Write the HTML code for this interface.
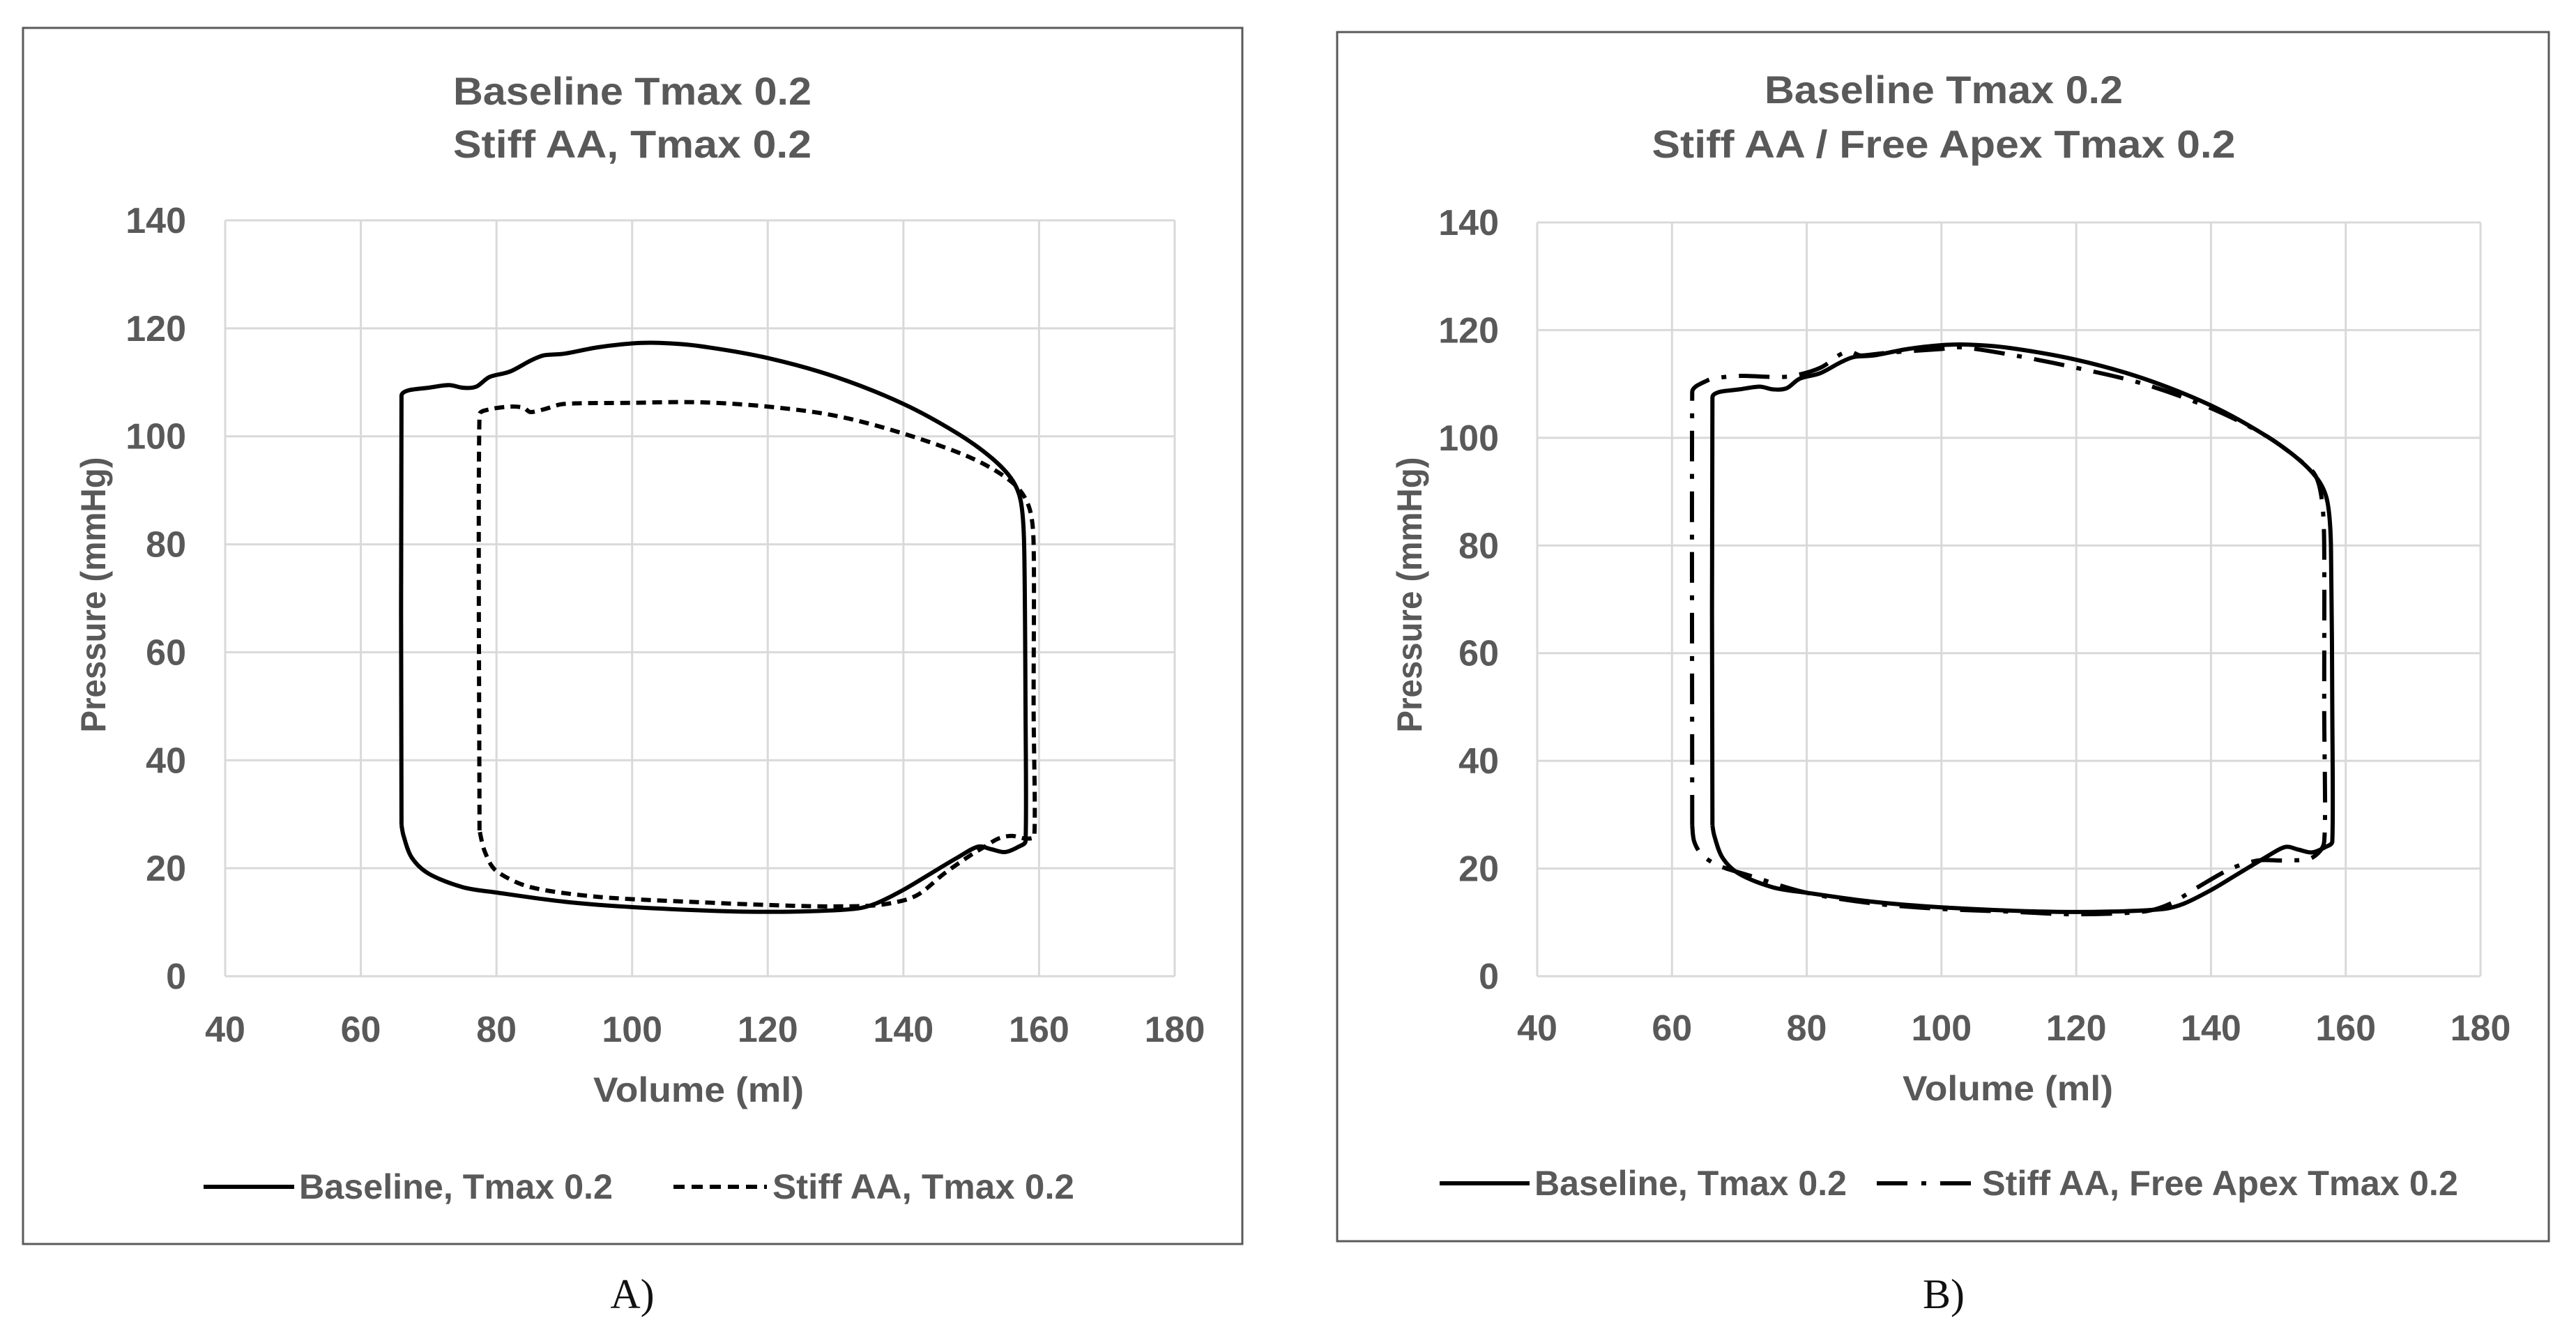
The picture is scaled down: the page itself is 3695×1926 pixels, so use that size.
<!DOCTYPE html>
<html><head><meta charset="utf-8">
<style>
html,body{margin:0;padding:0;background:#fff;}
svg{display:block;}
text{font-family:"Liberation Sans",sans-serif;font-weight:bold;fill:#595959;}
.cap{font-family:"Liberation Serif",serif;font-weight:normal;fill:#111;}
</style></head>
<body>
<svg id="root" width="3695" height="1926" viewBox="0 0 3695 1926" xmlns="http://www.w3.org/2000/svg">
  <rect x="0" y="0" width="3695" height="1926" fill="#fff"/>
  <g>
    <rect x="33" y="40" width="1749" height="1744" fill="none" stroke="#5a5a5a" stroke-width="3"/>
    <text x="907" y="150" font-size="56" text-anchor="middle" textLength="514" lengthAdjust="spacingAndGlyphs">Baseline Tmax 0.2</text>
    <text x="907" y="226" font-size="56" text-anchor="middle" textLength="514" lengthAdjust="spacingAndGlyphs">Stiff AA, Tmax 0.2</text>
    <g id="gridA"></g>
    <text x="1002" y="1580" font-size="50" text-anchor="middle" textLength="302" lengthAdjust="spacingAndGlyphs">Volume (ml)</text>
    <text transform="translate(151,853) rotate(-90)" font-size="50" text-anchor="middle" textLength="395" lengthAdjust="spacingAndGlyphs">Pressure (mmHg)</text>
    <g id="seriesA"></g>
    <g>
      <line x1="292" y1="1702" x2="422" y2="1702" stroke="#000" stroke-width="6"/>
      <text x="429" y="1719" font-size="50" textLength="450" lengthAdjust="spacingAndGlyphs">Baseline, Tmax 0.2</text>
      <line x1="966" y1="1702" x2="1100" y2="1702" stroke="#000" stroke-width="6" stroke-dasharray="16,10"/>
      <text x="1108" y="1719" font-size="50" textLength="433" lengthAdjust="spacingAndGlyphs">Stiff AA, Tmax 0.2</text>
    </g>
    <text class="cap" x="907" y="1876" font-size="60" text-anchor="middle">A)</text>
  </g>
  <g>
    <rect x="1918" y="46" width="1738" height="1734" fill="none" stroke="#5a5a5a" stroke-width="3"/>
    <text x="2788" y="148" font-size="56" text-anchor="middle" textLength="514" lengthAdjust="spacingAndGlyphs">Baseline Tmax 0.2</text>
    <text x="2788" y="226" font-size="56" text-anchor="middle" textLength="837" lengthAdjust="spacingAndGlyphs">Stiff AA / Free Apex Tmax 0.2</text>
    <g id="gridB"></g>
    <text x="2880" y="1578" font-size="50" text-anchor="middle" textLength="302" lengthAdjust="spacingAndGlyphs">Volume (ml)</text>
    <text transform="translate(2039,853) rotate(-90)" font-size="50" text-anchor="middle" textLength="395" lengthAdjust="spacingAndGlyphs">Pressure (mmHg)</text>
    <g id="seriesB"></g>
    <g>
      <line x1="2065" y1="1697" x2="2194" y2="1697" stroke="#000" stroke-width="6"/>
      <text x="2201" y="1714" font-size="50" textLength="448" lengthAdjust="spacingAndGlyphs">Baseline, Tmax 0.2</text>
      <line x1="2692" y1="1697" x2="2836" y2="1697" stroke="#000" stroke-width="6" stroke-dasharray="44,20,7,20,44,20"/>
      <text x="2843" y="1714" font-size="50" textLength="683" lengthAdjust="spacingAndGlyphs">Stiff AA, Free Apex Tmax 0.2</text>
    </g>
    <text class="cap" x="2788" y="1876" font-size="60" text-anchor="middle">B)</text>
  </g>
</svg>
<script>
const xTicks = [40, 60, 80, 100, 120, 140, 160, 180];
const yTicks = [0, 20, 40, 60, 80, 100, 120, 140];
const baseVol = [66,66,67,70,73,75,77,79,82,85,87,90,95,100,104,110,120,130,140,148,153,156,157.3,157.8,158,158,157,155,153,151,148,144,140,136,133,125,115,100,90,80,75,70,67.5,66.3,66];
const basePres = [28,107.5,108.5,109,109.5,109,109.2,111,112,114,115,115.3,116.5,117.2,117.3,116.7,114.5,111,106,100.5,96,92,88,80,50,25,24,23,23.5,24,22,19,16,13.5,12.5,12,12,12.8,13.8,15.5,16.5,19,22,26,28];
const stiffVol = [77.5,77.5,79,82,84,85,87,90,100,110,120,130,140,150,156,158.5,159.2,159.2,159.3,158,156,154,152,150,146,142,138,134,125,110,95,85,80,78.3,77.5];
const stiffPres = [27,104,105,105.5,105.3,104.5,105,106,106.2,106.3,105.5,103.8,100.5,96,91.5,87,80,50,26,25.5,26,25.5,24,22.5,19,15,13.5,13,13,13.7,14.7,16.5,19.5,23,27];
const apexVol = [63,63,63.5,65,66,70,75,78,82,85,86.5,88,92,100,103,110,120,130,140,148,153,155.5,156.5,156.8,156.8,156.8,155,152,150,147,143,138,134,130,120,110,100,90,80,72,67,64.5,63.3,63];
const apexPres = [28,108.5,109.5,110.5,111,111.5,111.3,111.5,113,115.5,116,115.3,115.8,116.5,116.8,115.5,113,110,105.5,100.5,96,93,88,80,50,25,22,21.5,21.5,21.5,20,16.5,13.5,12,11.5,12,12.5,13.5,15.5,18.5,20.5,22.5,25,28];

const NS = "http://www.w3.org/2000/svg";
function mk(tag, attrs, parent){
  const el = document.createElementNS(NS, tag);
  for (const k in attrs) el.setAttribute(k, attrs[k]);
  parent.appendChild(el);
  return el;
}
function makeAxes(p){
  p.sx = v => p.x0 + (v - 40) / 140 * (p.x1 - p.x0);
  p.sy = v => p.y1 - v / 140 * (p.y1 - p.y0);
  return p;
}
const A = makeAxes({x0:323, x1:1685, y0:316, y1:1400, grid:'gridA', series:'seriesA', ylab:267, xlabY:1494});
const B = makeAxes({x0:2205, x1:3558, y0:319, y1:1400, grid:'gridB', series:'seriesB', ylab:2150, xlabY:1492});

function drawGrid(p){
  const g = document.getElementById(p.grid);
  xTicks.forEach(t => {
    const l = mk('line', {x1:p.sx(t), x2:p.sx(t), y1:p.y0, y2:p.y1, stroke:'#d9d9d9', 'stroke-width':3}, g);
    
    
    const tx = mk('text', {x:p.sx(t), y:p.xlabY, 'font-size':52, 'text-anchor':'middle'}, g);
    tx.textContent = t;
    
    
  });
  yTicks.forEach(t => {
    const l = mk('line', {x1:p.x0, x2:p.x1, y1:p.sy(t), y2:p.sy(t), stroke:'#d9d9d9', 'stroke-width':3}, g);
    
    
    const tx = mk('text', {x:p.ylab, y:p.sy(t)+18, 'font-size':52, 'text-anchor':'end'}, g);
    tx.textContent = t;
    
    
  });
}
function clampVec(vx, vy, maxLen){
  const L = Math.hypot(vx, vy);
  if (L > maxLen && L > 0) { const s = maxLen / L; return [vx * s, vy * s]; }
  return [vx, vy];
}
function drawLoop(p, vols, pres, dash, name){
  const g = document.getElementById(p.series);
  const pts = vols.map((v, i) => [p.sx(v), p.sy(pres[i])]);
  let d = 'M' + pts[0][0].toFixed(1) + ',' + pts[0][1].toFixed(1);
  const t = 1 / 6;
  for (let i = 0; i < pts.length - 1; i++) {
    const p0 = pts[Math.max(0, i - 1)], p1 = pts[i], p2 = pts[i + 1], p3 = pts[Math.min(pts.length - 1, i + 2)];
    const seg = Math.hypot(p2[0] - p1[0], p2[1] - p1[1]);
    const v1 = clampVec((p2[0] - p0[0]) * t, (p2[1] - p0[1]) * t, seg * 0.35);
    const v2 = clampVec((p3[0] - p1[0]) * t, (p3[1] - p1[1]) * t, seg * 0.35);
    const c1 = [p1[0] + v1[0], p1[1] + v1[1]];
    const c2 = [p2[0] - v2[0], p2[1] - v2[1]];
    d += 'C' + c1[0].toFixed(1) + ',' + c1[1].toFixed(1) + ' ' + c2[0].toFixed(1) + ',' + c2[1].toFixed(1) + ' ' + p2[0].toFixed(1) + ',' + p2[1].toFixed(1);
  }
  const attrs = {d:d, fill:'none', stroke:'#000', 'stroke-width':6, 'stroke-linejoin':'round'};
  if (dash) attrs['stroke-dasharray'] = dash;
  const path = mk('path', attrs, g);
  
  
}
drawGrid(A); drawGrid(B);
drawLoop(A, stiffVol, stiffPres, '14,9', 'stiff-aa-loop');
drawLoop(A, baseVol, basePres, null, 'baseline-loop-a');
drawLoop(B, apexVol, apexPres, '44,18,7,18', 'free-apex-loop');
drawLoop(B, baseVol, basePres, null, 'baseline-loop-b');
</script>
</body></html>
